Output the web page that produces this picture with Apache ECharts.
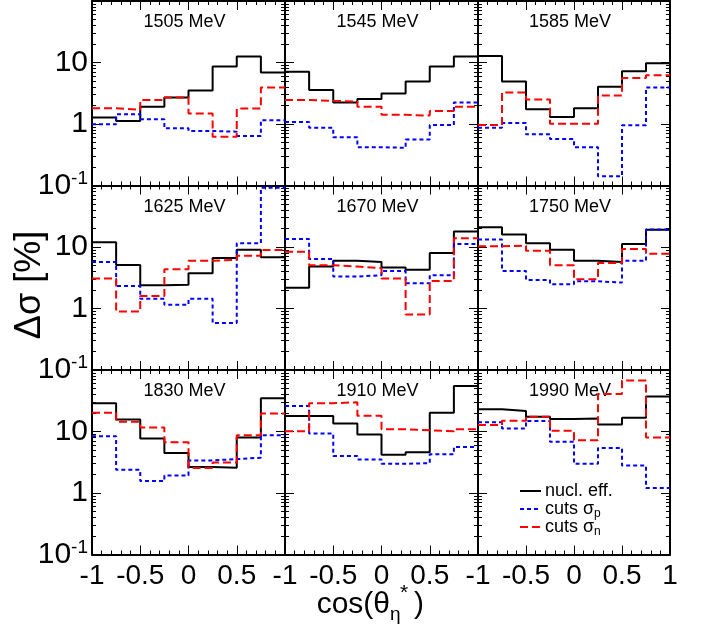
<!DOCTYPE html>
<html><head><meta charset="utf-8">
<script src="https://cdn.jsdelivr.net/npm/echarts@6/dist/echarts.min.js"></script>
<style>html,body{margin:0;padding:0;background:#fff}#c{width:711px;height:630px}</style>
</head><body><div id="c"></div>
<script>
// ---- data ----
const energies = [1505, 1545, 1585, 1625, 1670, 1750, 1830, 1910, 1990];
const binEdges = [-1, -0.75, -0.5, -0.25, 0, 0.25, 0.5, 0.75, 1];
const xTickLabels = ['-1', '-0.5', '0', '0.5', '1'];
const yMajorTicks = [0.1, 1, 10, 100];
const yMinorTicks = [0.2,0.3,0.4,0.5,0.6,0.7,0.8,0.9,2,3,4,5,6,7,8,9,20,30,40,50,60,70,80,90];

const nuclEff = [
  [1.27, 1.12, 1.9, 2.7, 3.5, 8.6, 12.5, 6.9],
  [7.1, 3.56, 2.23, 2.54, 3.14, 4.93, 8.6, 12.5],
  [12.7, 4.93, 1.74, 1.30, 1.81, 4.05, 7.2, 9.75],
  [11.9, 5.1, 2.38, 2.44, 3.75, 6.6, 9.0, 6.8],
  [2.18, 4.8, 5.96, 5.7, 4.65, 4.25, 8.0, 17.8],
  [21, 15.9, 11.5, 9.0, 5.96, 5.7, 11.2, 19],
  [28.8, 15.7, 7.7, 4.47, 2.64, 2.57, 8.0, 34.7],
  [17.8, 17.8, 13.5, 8.9, 4.2, 4.58, 20.2, 55],
  [23, 21.5, 17.4, 15.9, 16.3, 13.0, 16.8, 37]
];
const cutsP = [
  [0.99, 1.44, 1.19, 0.85, 0.77, 0.75, 0.64, 1.15],
  [1.08, 0.87, 0.61, 0.42, 0.41, 0.56, 0.96, 2.23],
  [0.87, 1.04, 0.68, 0.57, 0.42, 0.142, 0.95, 3.94],
  [5.7, 2.32, 1.44, 1.15, 1.44, 0.58, 11.5, 92],
  [13.5, 6.4, 3.3, 3.48, 4.08, 2.57, 3.48, 11.2],
  [13.2, 4.08, 2.91, 2.47, 2.77, 2.64, 5.96, 19.2],
  [8.4, 2.38, 1.56, 1.92, 3.39, 3.56, 3.75, 8.7],
  [26, 9.3, 3.99, 3.52, 2.98, 3.06, 4.25, 5.6],
  [14.1, 11.2, 14.8, 6.8, 2.98, 5.4, 2.8, 1.21]
];
const cutsN = [
  [1.81, 1.71, 2.45, 2.7, 1.48, 0.62, 1.78, 3.94],
  [2.45, 2.38, 2.32, 1.9, 1.41, 1.37, 1.63, 1.9],
  [0.96, 3.26, 2.5, 1.01, 1.01, 2.91, 5.6, 6.2],
  [3.07, 0.89, 1.59, 4.36, 5.96, 6.2, 7.2, 8.9],
  [8.4, 5.07, 4.8, 4.53, 3.07, 0.80, 2.8, 13.9],
  [10.3, 10.5, 8.7, 5.07, 2.98, 5.47, 9.3, 7.8],
  [20.2, 14.4, 11.6, 6.7, 2.54, 3.14, 8.7, 19.7],
  [10.1, 28.8, 29.9, 18.1, 10.9, 10.5, 10.1, 10.9],
  [12.7, 15.0, 17.4, 10.3, 7.2, 40.9, 67.8, 8.0]
];

// ---- layout ----
const FONT = '"Liberation Sans", Arial, Helvetica, sans-serif';
const colLeft = [92, 285, 478];
const colW = [193, 193, 192];
const rowTop = [1, 185.5, 370];
const rowH = 184.5;

function histData(vals) {
  return binEdges.map((e, i) => [e, vals[Math.min(i, vals.length - 1)]]);
}
function near(a, b) { return Math.abs(a - b) < 1e-6 * Math.max(1, Math.abs(b)); }

const grids = [], xAxes = [], yAxes = [], series = [], graphics = [];
const axisLine = { show: true, onZero: false, lineStyle: { color: '#000', width: 2 } };
const noLine = { show: false, onZero: false };

for (let g = 0; g < 9; g++) {
  const r = Math.floor(g / 3), c = g % 3;
  grids.push({ left: colLeft[c], top: rowTop[r], width: colW[c], height: rowH, containLabel: false });
  const xBase = {
    gridIndex: g, type: 'value', min: -1, max: 1, interval: 0.5,
    axisLine, splitLine: { show: false }, minorSplitLine: { show: false },
    axisTick: { show: true, inside: true, length: 9, lineStyle: { color: '#000', width: 1 } },
    minorTick: { show: true, splitNumber: 5, length: 4, lineStyle: { color: '#000', width: 1 } }
  };
  xAxes.push(Object.assign({}, xBase, {
    position: 'bottom',
    axisLabel: {
      show: r === 2, color: '#000', fontFamily: FONT, fontSize: 28, margin: 8,
      showMinLabel: true, showMaxLabel: true,
      formatter: v => (c < 2 && near(v, 1)) ? '' : xTickLabels[Math.round((v + 1) * 2)]
    }
  }));
  xAxes.push(Object.assign({}, xBase, { position: 'top', axisLabel: { show: false } }));

  const yBase = { gridIndex: g, type: 'log', logBase: 10, min: 0.1, max: 100, splitLine: { show: false }, minorSplitLine: { show: false } };
  yAxes.push(Object.assign({}, yBase, {
    position: 'left', axisLine,
    axisTick: { show: true, inside: true, length: 9, customValues: yMajorTicks, lineStyle: { color: '#000', width: 1 } },
    axisLabel: {
      show: c === 0, customValues: [0.1, 1, 10], color: '#000', fontFamily: FONT, fontSize: 30, margin: 4,
      formatter: v => near(v, 0.1) ? '10{sup|-1}' : near(v, 1) ? '1' : near(v, 10) ? '10' : '',
      rich: { sup: { fontSize: 19, fontFamily: FONT, color: '#000', padding: [0, 0, 14, 0] } }
    }
  }));
  yAxes.push(Object.assign({}, yBase, {
    position: 'left', axisLine: noLine,
    axisTick: { show: true, inside: true, length: 4, customValues: yMinorTicks, lineStyle: { color: '#000', width: 1 } },
    axisLabel: { show: false }
  }));
  yAxes.push(Object.assign({}, yBase, {
    position: 'right', axisLine,
    axisTick: { show: true, inside: true, length: 9, customValues: yMajorTicks, lineStyle: { color: '#000', width: 1 } },
    axisLabel: { show: false }
  }));
  yAxes.push(Object.assign({}, yBase, {
    position: 'right', axisLine: noLine,
    axisTick: { show: true, inside: true, length: 4, customValues: yMinorTicks, lineStyle: { color: '#000', width: 1 } },
    axisLabel: { show: false }
  }));

  const common = { type: 'line', step: 'end', symbol: 'none', xAxisIndex: 2 * g, yAxisIndex: 4 * g, clip: true, silent: true, animation: false };
  series.push(Object.assign({}, common, { name: 'nucl. eff.', data: histData(nuclEff[g]), lineStyle: { color: '#000', width: 2 } }));
  series.push(Object.assign({}, common, { name: 'cuts σp', data: histData(cutsP[g]), lineStyle: { color: '#0000ff', width: 2, type: [4, 3] } }));
  series.push(Object.assign({}, common, { name: 'cuts σn', data: histData(cutsN[g]), lineStyle: { color: '#ff0000', width: 2, type: [8, 4] } }));

  graphics.push({
    type: 'text', x: colLeft[c] + colW[c] / 2 - 4, y: rowTop[r] + 21.5,
    style: { text: energies[g] + ' MeV', font: '18px ' + FONT, fill: '#000', textAlign: 'center', textVerticalAlign: 'middle' }
  });
}

// axis titles
graphics.push({
  type: 'text', x: 30, y: 285, rotation: Math.PI / 2,
  style: { text: 'Δσ [%]', font: '36px ' + FONT, fill: '#000', textAlign: 'center', textVerticalAlign: 'middle' }
});
graphics.push({ type: 'text', x: 390, y: 605, style: { text: 'cos(θ', font: '30px ' + FONT, fill: '#000', textAlign: 'right', textVerticalAlign: 'middle' } });
graphics.push({ type: 'text', x: 390, y: 615, style: { text: 'η', font: '19px ' + FONT, fill: '#000', textAlign: 'left', textVerticalAlign: 'middle' } });
graphics.push({ type: 'text', x: 400, y: 593, style: { text: '*', font: '21px ' + FONT, fill: '#000', textAlign: 'left', textVerticalAlign: 'middle' } });
graphics.push({ type: 'text', x: 414, y: 605, style: { text: ')', font: '30px ' + FONT, fill: '#000', textAlign: 'left', textVerticalAlign: 'middle' } });

// legend
const legendItems = [
  { text: 'nucl. eff.', color: '#000', dash: null, y: 491 },
  { text: 'cuts σ{sub|p}', color: '#0000ff', dash: [4, 3], y: 509 },
  { text: 'cuts σ{sub|n}', color: '#ff0000', dash: [8, 4], y: 527 }
];
legendItems.forEach(it => {
  graphics.push({ type: 'line', shape: { x1: 520, y1: it.y, x2: 541, y2: it.y }, style: { stroke: it.color, lineWidth: 2, lineDash: it.dash } });
  graphics.push({
    type: 'text', x: 545, y: it.y,
    style: {
      text: it.text, font: '18px ' + FONT, fill: '#000', textAlign: 'left', textVerticalAlign: 'middle',
      rich: { sub: { fontSize: 12, fontFamily: FONT, fill: '#000', padding: [10, 0, 0, 0] } }
    }
  });
});

const chart = echarts.init(document.getElementById('c'));
chart.setOption({
  animation: false,
  backgroundColor: '#fff',
  grid: grids, xAxis: xAxes, yAxis: yAxes, series, graphic: graphics
});
</script></body></html>
